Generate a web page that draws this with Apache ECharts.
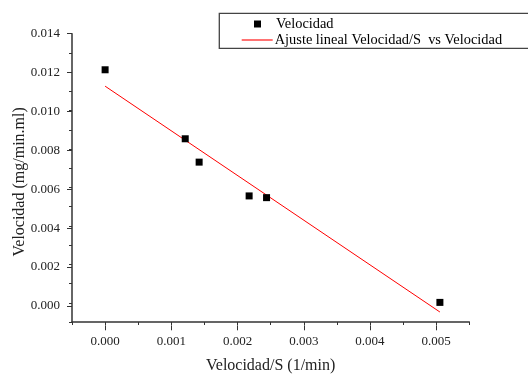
<!DOCTYPE html>
<html>
<head>
<meta charset="utf-8">
<script src="https://cdn.jsdelivr.net/npm/echarts@6/dist/echarts.min.js"></script>
<style>html,body{margin:0;padding:0;background:#fff}#c{width:528px;height:379px}</style>
</head>
<body>
<div id="c"></div>
<script>
// Data
const xValues = [0.0000, 0.00121, 0.00142, 0.002175, 0.002438, 0.005056];
const yValues = [0.012123, 0.008533, 0.007318, 0.00556, 0.00547, 0.00002];
const fitX = [0.0000, 0.005056];
const fitY = [0.01127, -0.00048];
const seriesNames = ['Velocidad', 'Ajuste lineal Velocidad/S  vs Velocidad'];
const xTitle = 'Velocidad/S (1/min)';
const yTitle = 'Velocidad (mg/min.ml)';
const xRange = [-0.0005, 0.0055];
const yRange = [-0.001, 0.014];
const xMajor = [0, 0.005];
const yMajor = [0, 0.014];

// Layout
const W = 528, H = 379;
const gL = 72, gR = 469.3, gT = 33.7, gB = 325.3;
const pxX = (gR - gL) / (xRange[1] - xRange[0]);
const pxY = (gB - gT) / (yRange[1] - yRange[0]);
const g2L = gL + (xMajor[0] - xRange[0]) * pxX;
const g2R = gL + (xMajor[1] - xRange[0]) * pxX;
const g2T = gB - (yMajor[1] - yRange[0]) * pxY;
const g2B = gB - (yMajor[0] - yRange[0]) * pxY;

const font = 'Liberation Serif';
const axisColor = '#333';
const textColor = '#222';

const chart = echarts.init(document.getElementById('c'), null, {renderer: 'canvas'});
chart.setOption({
  animation: false,
  backgroundColor: '#fff',
  grid: [
    {left: gL, right: W - gR, top: gT, bottom: H - gB},
    {left: g2L, right: W - g2R, top: g2T, bottom: H - g2B}
  ],
  xAxis: [
    {
      type: 'value', gridIndex: 0, min: xRange[0], max: xRange[1], interval: 0.0005,
      splitLine: {show: false},
      axisLine: {show: true, onZero: false, lineStyle: {color: axisColor, width: 1.5}},
      axisTick: {show: true, length: 3, lineStyle: {color: axisColor, width: 1}},
      axisLabel: {show: false},
      name: xTitle, nameLocation: 'middle', nameGap: 36,
      nameTextStyle: {fontFamily: font, fontSize: 16, color: textColor}
    },
    {
      type: 'value', gridIndex: 1, min: xMajor[0], max: xMajor[1], interval: 0.001,
      offset: gB - g2B,
      splitLine: {show: false},
      axisLine: {show: false, onZero: false},
      axisTick: {show: true, length: 5, lineStyle: {color: axisColor, width: 1}},
      axisLabel: {show: true, margin: 10, fontFamily: font, fontSize: 13, color: textColor,
        formatter: v => v.toFixed(3)}
    }
  ],
  yAxis: [
    {
      type: 'value', gridIndex: 0, min: yRange[0], max: yRange[1], interval: 0.001,
      splitLine: {show: false},
      axisLine: {show: true, onZero: false, lineStyle: {color: axisColor, width: 1.5}},
      axisTick: {show: true, length: 3, lineStyle: {color: axisColor, width: 1}},
      axisLabel: {show: false},
      name: yTitle, nameLocation: 'middle', nameGap: 44, nameRotate: 90,
      nameTextStyle: {fontFamily: font, fontSize: 16, color: textColor, padding: [0, 8, 0, 0]}
    },
    {
      type: 'value', gridIndex: 1, min: yMajor[0], max: yMajor[1], interval: 0.002,
      offset: g2L - gL,
      splitLine: {show: false},
      axisLine: {show: false, onZero: false},
      axisTick: {show: true, length: 5, lineStyle: {color: axisColor, width: 1}},
      axisLabel: {show: true, margin: 12, fontFamily: font, fontSize: 13, color: textColor,
        formatter: v => v.toFixed(3)}
    }
  ],
  legend: [
    {
      data: [{name: seriesNames[0], icon: 'rect'}],
      left: 254, top: 17, padding: 0, itemWidth: 7, itemHeight: 7, itemGap: 0,
      textStyle: {fontFamily: font, fontSize: 14.4, color: '#000', padding: [0, 0, 0, 10]},
      selectedMode: false
    },
    {
      data: [{name: seriesNames[1], icon: 'rect', itemStyle: {color: '#ff4444'}}],
      left: 241.7, top: 33, padding: 0, itemWidth: 31, itemHeight: 1.5, itemGap: 0,
      textStyle: {fontFamily: font, fontSize: 14.4, color: '#000', padding: [0, 0, 0, -3]},
      selectedMode: false
    }
  ],
  graphic: [
    {type: 'rect', shape: {x: 219.3, y: 13.3, width: 330, height: 35},
     style: {fill: 'none', stroke: '#444', lineWidth: 1.3}, silent: true, z: 10}
  ],
  series: [
    {
      name: seriesNames[0], type: 'scatter', xAxisIndex: 0, yAxisIndex: 0,
      symbol: 'rect', symbolSize: 7, itemStyle: {color: '#000', opacity: 1},
      data: xValues.map((x, i) => [x, yValues[i]]), z: 3
    },
    {
      name: seriesNames[1], type: 'line', xAxisIndex: 0, yAxisIndex: 0,
      showSymbol: false, symbol: 'none',
      lineStyle: {color: '#ff0000', width: 1}, itemStyle: {color: '#ff0000'},
      data: fitX.map((x, i) => [x, fitY[i]]), z: 2
    }
  ]
});
</script>
</body>
</html>
